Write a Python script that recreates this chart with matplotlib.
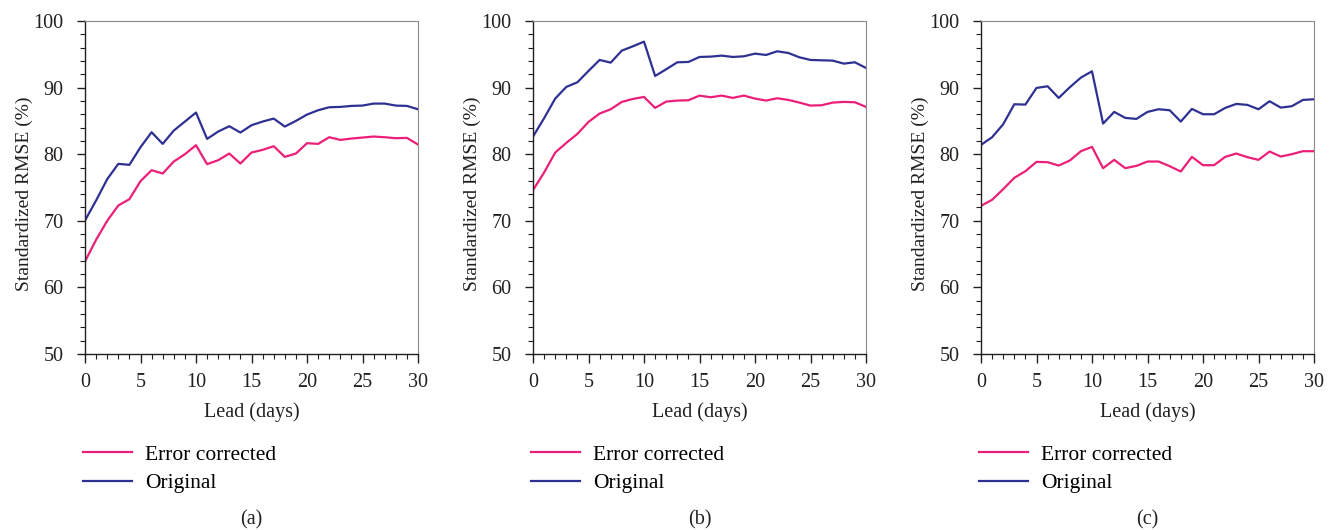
import numpy as np
import matplotlib
matplotlib.use("Agg")
import matplotlib.pyplot as plt
from matplotlib.ticker import MultipleLocator

plt.rcParams["font.family"] = ["Liberation Serif", "DejaVu Serif"]

lead_days = list(range(31))

# (a)
orig_a = [70.05, 73.05, 76.25, 78.55, 78.4, 81.05, 83.3, 81.55, 83.55, 84.9, 86.25,
          82.3, 83.4, 84.2, 83.25, 84.35, 84.9, 85.35, 84.15, 85.0, 85.95,
          86.6, 87.05, 87.1, 87.25, 87.3, 87.6, 87.6, 87.3, 87.25, 86.75]
corr_a = [63.9, 67.15, 70.0, 72.3, 73.25, 75.95, 77.6, 77.1, 78.9, 80.0, 81.35,
          78.5, 79.1, 80.1, 78.6, 80.25, 80.65, 81.2, 79.6, 80.1, 81.65,
          81.55, 82.55, 82.15, 82.35, 82.5, 82.65, 82.55, 82.4, 82.45, 81.45]

# (b)
orig_b = [82.65, 85.4, 88.35, 90.1, 90.8, 92.5, 94.15, 93.75, 95.55, 96.2, 96.9,
          91.75, 92.75, 93.8, 93.85, 94.6, 94.65, 94.8, 94.6, 94.7, 95.1,
          94.9, 95.45, 95.2, 94.55, 94.15, 94.1, 94.05, 93.6, 93.8, 92.95]
corr_b = [74.6, 77.25, 80.25, 81.7, 83.05, 84.85, 86.1, 86.75, 87.85, 88.3, 88.6,
          86.95, 87.9, 88.05, 88.1, 88.8, 88.55, 88.8, 88.45, 88.8, 88.35,
          88.05, 88.4, 88.15, 87.75, 87.3, 87.35, 87.75, 87.85, 87.8, 87.1]

# (c)
orig_c = [81.4, 82.55, 84.5, 87.5, 87.45, 89.95, 90.2, 88.45, 90.05, 91.5, 92.45,
          84.6, 86.35, 85.45, 85.3, 86.35, 86.75, 86.6, 84.9, 86.8, 86.0,
          86.0, 86.95, 87.55, 87.4, 86.75, 87.95, 87.0, 87.2, 88.15, 88.25]
corr_c = [72.25, 73.15, 74.75, 76.45, 77.45, 78.85, 78.8, 78.3, 79.05, 80.45, 81.1,
          77.9, 79.15, 77.9, 78.25, 78.9, 78.9, 78.2, 77.4, 79.6, 78.35,
          78.35, 79.6, 80.1, 79.55, 79.15, 80.4, 79.65, 80.0, 80.45, 80.45]

panels = [("(a)", orig_a, corr_a), ("(b)", orig_b, corr_b), ("(c)", orig_c, corr_c)]
series_labels = ["Error corrected", "Original"]
pink = "#ec1f78"
navy = "#2e3192"
ink = "#231f20"

W, H = 1339, 530
fig = plt.figure(figsize=(W / 100, H / 100), dpi=100)

lefts = [85, 533, 981]
ax_w, ax_top, ax_bot = 333, 21, 354

for (tag, orig, corr), lx in zip(panels, lefts):
    ax = fig.add_axes([lx / W, (H - ax_bot) / H, ax_w / W, (ax_bot - ax_top) / H])
    ax.plot(lead_days, corr, color=pink, lw=1.6, label=series_labels[0])
    ax.plot(lead_days, orig, color=navy, lw=1.6, label=series_labels[1])
    ax.set_xlim(0, 30)
    ax.set_ylim(50, 100)
    ax.xaxis.set_major_locator(MultipleLocator(5))
    ax.xaxis.set_minor_locator(MultipleLocator(1))
    ax.yaxis.set_major_locator(MultipleLocator(10))
    ax.yaxis.set_minor_locator(MultipleLocator(2))
    ax.tick_params(axis="both", which="major", direction="out", labelsize=14.5,
                   colors=ink, width=1.0)
    ax.tick_params(axis="x", which="major", length=6.5, pad=7)
    ax.tick_params(axis="y", which="major", length=6, pad=9.5)
    ax.tick_params(axis="both", which="minor", direction="out", length=3.5,
                   width=0.8, colors=ink)
    for side in ("left", "bottom"):
        ax.spines[side].set_color(ink)
        ax.spines[side].set_linewidth(1.0)
    for side in ("top", "right"):
        ax.spines[side].set_color("#8a8a8a")
        ax.spines[side].set_linewidth(0.8)
    ax.set_xlabel("Lead (days)", fontsize=14.5, color=ink, labelpad=7.5)
    ax.set_ylabel("Standardized RMSE (%)", fontsize=14, color=ink)
    ax.yaxis.set_label_coords(-0.155, 0.48)
    ax.legend(loc="upper left", bbox_to_anchor=(-0.006, -0.272), frameon=False,
              fontsize=15.5, handlelength=2.27, handletextpad=0.6,
              labelspacing=0.39, borderaxespad=0, borderpad=0)
    ax.text(0.5, -0.498, tag, transform=ax.transAxes, ha="center", va="center",
            fontsize=14.5, color=ink)

fig.savefig("out.png", dpi=100)
